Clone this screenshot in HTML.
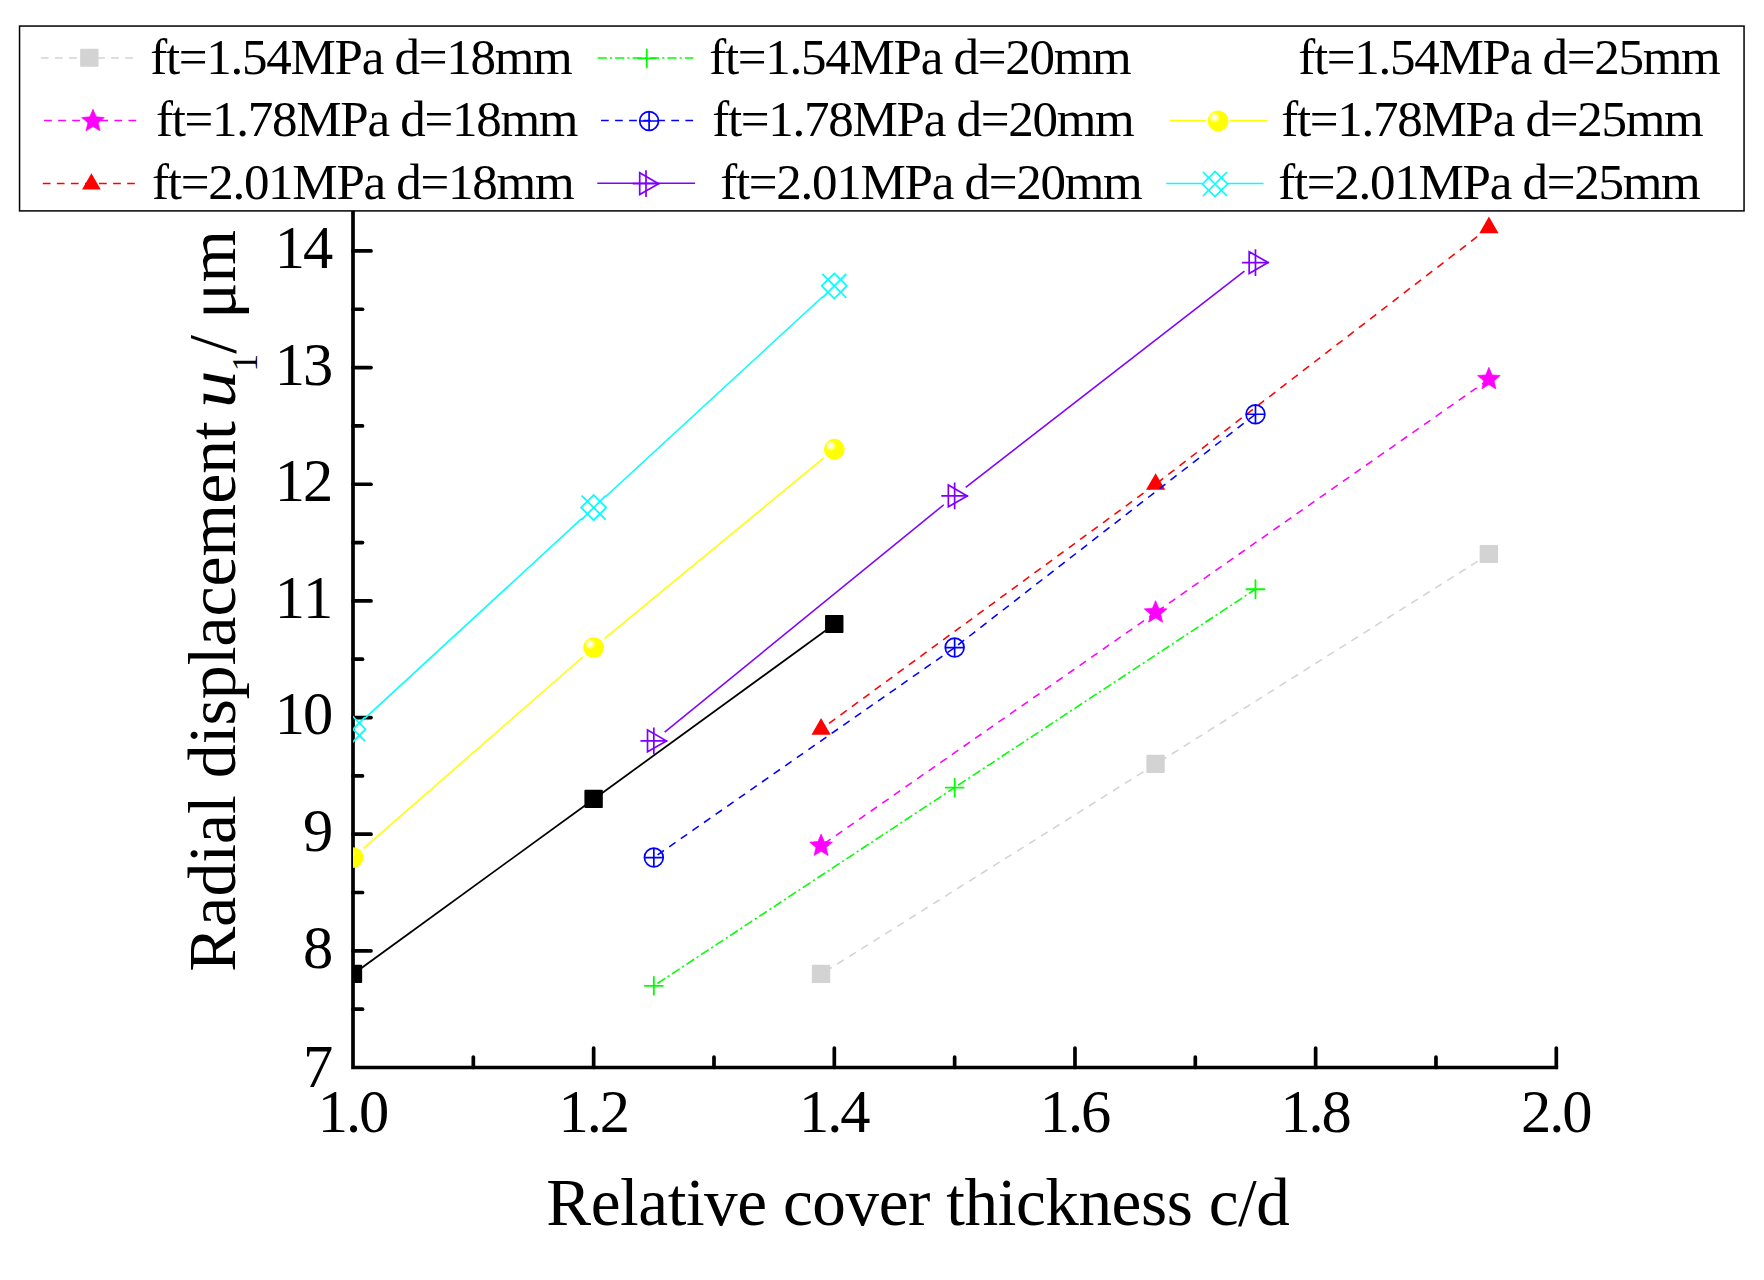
<!DOCTYPE html>
<html><head><meta charset="utf-8"><title>Radial displacement vs relative cover thickness</title>
<style>
html,body{margin:0;padding:0;background:#fff;}
svg{display:block;font-family:'Liberation Serif','Times New Roman',serif;}
text{fill:#000;}
</style></head><body>
<svg width="1764" height="1280" viewBox="0 0 1764 1280">
<defs>
<radialGradient id="ball" cx="0.332" cy="0.335" r="0.26" fx="0.332" fy="0.335">
<stop offset="0" stop-color="#ffffff"/><stop offset="0.22" stop-color="#fffff4"/><stop offset="0.55" stop-color="#ffffa0"/><stop offset="0.85" stop-color="#ffff40"/><stop offset="1" stop-color="#ffff00"/>
</radialGradient>
<clipPath id="plot"><rect x="353.0" y="0" width="1411.0" height="1067.5"/></clipPath>
</defs>
<rect width="1764" height="1280" fill="#fff"/>

<g stroke="#000" stroke-width="3.7" stroke-linecap="round" fill="none">
<path d="M353.0 212 V1067.5 H1556.3" stroke-linecap="square" stroke-linejoin="miter"/>
<path d="M353.0 1009.17 h9.5"/>
<path d="M353.0 950.85 h18"/>
<path d="M353.0 892.52 h9.5"/>
<path d="M353.0 834.20 h18"/>
<path d="M353.0 775.88 h9.5"/>
<path d="M353.0 717.55 h18"/>
<path d="M353.0 659.22 h9.5"/>
<path d="M353.0 600.90 h18"/>
<path d="M353.0 542.57 h9.5"/>
<path d="M353.0 484.25 h18"/>
<path d="M353.0 425.92 h9.5"/>
<path d="M353.0 367.60 h18"/>
<path d="M353.0 309.27 h9.5"/>
<path d="M353.0 250.95 h18"/>
<path d="M473.33 1067.5 v-10.5"/>
<path d="M593.66 1067.5 v-19.5"/>
<path d="M713.99 1067.5 v-10.5"/>
<path d="M834.32 1067.5 v-19.5"/>
<path d="M954.65 1067.5 v-10.5"/>
<path d="M1074.98 1067.5 v-19.5"/>
<path d="M1195.31 1067.5 v-10.5"/>
<path d="M1315.64 1067.5 v-19.5"/>
<path d="M1435.97 1067.5 v-10.5"/>
<path d="M1556.30 1067.5 v-19.5"/>
</g>
<g font-size="60.5" text-anchor="end">
<text x="333.3" y="1086.5">7</text>
<text x="333.3" y="967.8">8</text>
<text x="333.3" y="851.1">9</text>
<text x="333.3" y="734.4" textLength="58.6" lengthAdjust="spacing">10</text>
<text x="333.3" y="617.8" textLength="58.6" lengthAdjust="spacing">11</text>
<text x="333.3" y="501.1" textLength="58.6" lengthAdjust="spacing">12</text>
<text x="333.3" y="384.5" textLength="58.6" lengthAdjust="spacing">13</text>
<text x="333.3" y="267.8" textLength="58.6" lengthAdjust="spacing">14</text>
</g>
<g font-size="60.5" text-anchor="middle">
<text x="353.5" y="1132.2" textLength="71.4" lengthAdjust="spacing">1.0</text>
<text x="594.2" y="1132.2" textLength="71.4" lengthAdjust="spacing">1.2</text>
<text x="834.8" y="1132.2" textLength="71.4" lengthAdjust="spacing">1.4</text>
<text x="1075.5" y="1132.2" textLength="71.4" lengthAdjust="spacing">1.6</text>
<text x="1316.1" y="1132.2" textLength="71.4" lengthAdjust="spacing">1.8</text>
<text x="1556.8" y="1132.2" textLength="71.4" lengthAdjust="spacing">2.0</text>
</g>
<text x="546.3" y="1224.8" font-size="67.2" textLength="743.6" lengthAdjust="spacing">Relative cover thickness c/d</text>
<text transform="translate(234.8,971.8) rotate(-90)" font-size="67.7">Radial displacement</text>
<text transform="translate(234.8,408.0) rotate(-90)" font-size="67.7" font-style="italic" textLength="37.5" lengthAdjust="spacingAndGlyphs">u</text>
<text transform="translate(256.7,371.5) rotate(-90)" font-size="35.4">1</text>
<text transform="translate(234.8,353.8) rotate(-90)" font-size="67.7">/</text>
<text transform="translate(234.8,318.7) rotate(-90)" font-size="67.7">μm</text>
<g clip-path="url(#plot)">
<path d="M821.08 974.18L1155.60 764.21" stroke="#d3d3d3" stroke-width="1.55" fill="none" stroke-dasharray="7.7 6.45" stroke-dashoffset="-5.00"/>
<path d="M1155.60 764.21L1488.92 554.24" stroke="#d3d3d3" stroke-width="1.55" fill="none" stroke-dasharray="7.7 6.45" stroke-dashoffset="-5.00"/>
<rect x="811.83" y="964.83" width="18.40" height="18.10" rx="0.8" fill="#d3d3d3"/>
<rect x="1146.35" y="754.86" width="18.40" height="18.10" rx="0.8" fill="#d3d3d3"/>
<rect x="1479.67" y="544.89" width="18.40" height="18.10" rx="0.8" fill="#d3d3d3"/>
<path d="M821.08 845.87L1155.60 612.56" stroke="#ff00ff" stroke-width="1.55" fill="none" stroke-dasharray="7.7 6.45" stroke-dashoffset="-3.90"/>
<path d="M1155.60 612.56L1488.92 379.26" stroke="#ff00ff" stroke-width="1.55" fill="none" stroke-dasharray="7.7 6.45" stroke-dashoffset="-2.20"/>
<polygon points="821.08,833.97 824.23,841.53 832.40,842.19 826.18,847.52 828.08,855.49 821.08,851.22 814.09,855.49 815.99,847.52 809.77,842.19 817.94,841.53" fill="#ff00ff" stroke="#ff00ff" stroke-width="0.7" stroke-linejoin="round"/>
<polygon points="1155.60,600.66 1158.75,608.23 1166.92,608.89 1160.69,614.22 1162.60,622.19 1155.60,617.92 1148.61,622.19 1150.51,614.22 1144.28,608.89 1152.45,608.23" fill="#ff00ff" stroke="#ff00ff" stroke-width="0.7" stroke-linejoin="round"/>
<polygon points="1488.92,367.36 1492.06,374.93 1500.23,375.59 1494.01,380.92 1495.91,388.89 1488.92,384.62 1481.92,388.89 1483.82,380.92 1477.60,375.59 1485.77,374.93" fill="#ff00ff" stroke="#ff00ff" stroke-width="0.7" stroke-linejoin="round"/>
<path d="M821.08 729.21L1155.60 484.25" stroke="#ff0000" stroke-width="1.55" fill="none" stroke-dasharray="7.7 6.45" stroke-dashoffset="4.30"/>
<path d="M1155.60 484.25L1488.92 227.62" stroke="#ff0000" stroke-width="1.55" fill="none" stroke-dasharray="7.7 6.45" stroke-dashoffset="-1.90"/>
<polygon points="821.08,718.11 811.47,734.76 830.70,734.76" fill="#ff0000"/>
<polygon points="1155.60,473.15 1145.99,489.80 1165.21,489.80" fill="#ff0000"/>
<polygon points="1488.92,216.52 1479.30,233.17 1498.53,233.17" fill="#ff0000"/>
<path d="M653.83 985.85L954.65 787.54" stroke="#00ff00" stroke-width="1.55" fill="none" stroke-dasharray="9.15 3.06 2.15 3.06" stroke-dashoffset="-4.30"/>
<path d="M954.65 787.54L1255.47 589.24" stroke="#00ff00" stroke-width="1.55" fill="none" stroke-dasharray="9.15 3.06 2.15 3.06" stroke-dashoffset="-4.15"/>
<path d="M644.83 985.85h18.0M653.83 976.85v18.0" stroke="#00ff00" stroke-width="1.8" stroke-linecap="round" fill="none"/>
<path d="M945.65 787.54h18.0M954.65 778.54v18.0" stroke="#00ff00" stroke-width="1.8" stroke-linecap="round" fill="none"/>
<path d="M1246.47 589.24h18.0M1255.47 580.24v18.0" stroke="#00ff00" stroke-width="1.8" stroke-linecap="round" fill="none"/>
<path d="M653.83 857.53L954.65 647.56" stroke="#0000ff" stroke-width="1.55" fill="none" stroke-dasharray="7.7 6.45" stroke-dashoffset="-4.60"/>
<path d="M954.65 647.56L1255.47 414.26" stroke="#0000ff" stroke-width="1.55" fill="none" stroke-dasharray="7.7 6.45" stroke-dashoffset="-4.30"/>
<g stroke="#0000ff" stroke-width="1.7" fill="none"><circle cx="653.83" cy="857.53" r="9.4"/><path d="M644.43 857.53h18.8M653.83 848.13v18.8"/></g>
<g stroke="#0000ff" stroke-width="1.7" fill="none"><circle cx="954.65" cy="647.56" r="9.4"/><path d="M945.25 647.56h18.8M954.65 638.16v18.8"/></g>
<g stroke="#0000ff" stroke-width="1.7" fill="none"><circle cx="1255.47" cy="414.26" r="9.4"/><path d="M1246.07 414.26h18.8M1255.47 404.86v18.8"/></g>
<path d="M664.68 732.04L943.79 504.76" stroke="#8000ff" stroke-width="1.55" fill="none"/>
<path d="M965.71 487.34L1244.41 271.19" stroke="#8000ff" stroke-width="1.55" fill="none"/>
<g stroke="#8000ff" stroke-width="1.7" fill="none" stroke-linejoin="miter"><polygon points="666.43,740.88 647.53,729.97 647.53,751.79"/><path d="M640.43 740.88h26.8M653.83 727.48v26.8"/></g>
<g stroke="#8000ff" stroke-width="1.7" fill="none" stroke-linejoin="miter"><polygon points="967.25,495.91 948.35,485.00 948.35,506.83"/><path d="M941.25 495.91h26.8M954.65 482.51v26.8"/></g>
<g stroke="#8000ff" stroke-width="1.7" fill="none" stroke-linejoin="miter"><polygon points="1268.07,262.61 1249.17,251.70 1249.17,273.53"/><path d="M1242.07 262.61h26.8M1255.47 249.21v26.8"/></g>
<path d="M353.00 974.18L593.66 799.20" stroke="#000000" stroke-width="1.75" fill="none"/>
<path d="M593.66 799.20L834.32 624.23" stroke="#000000" stroke-width="1.75" fill="none"/>
<rect x="343.75" y="964.83" width="18.40" height="18.10" rx="0.8" fill="#000000"/>
<rect x="584.41" y="789.85" width="18.40" height="18.10" rx="0.8" fill="#000000"/>
<rect x="825.07" y="614.88" width="18.40" height="18.10" rx="0.8" fill="#000000"/>
<path d="M363.55 848.33L583.11 656.76" stroke="#ffff00" stroke-width="1.55" fill="none"/>
<path d="M604.46 638.66L823.52 458.16" stroke="#ffff00" stroke-width="1.55" fill="none"/>
<circle cx="353.00" cy="857.53" r="10.4" fill="url(#ball)"/>
<circle cx="593.66" cy="647.56" r="10.4" fill="url(#ball)"/>
<circle cx="834.32" cy="449.25" r="10.4" fill="url(#ball)"/>
<path d="M364.77 718.38L581.89 518.42" stroke="#00ffff" stroke-width="1.55" fill="none"/>
<path d="M605.43 496.74L822.55 296.78" stroke="#00ffff" stroke-width="1.55" fill="none"/>
<g stroke="#00ffff" stroke-width="1.7" fill="none"><polygon points="340.40,729.21 353.00,716.61 365.60,729.21 353.00,741.81"/><path d="M341.00 717.21L365.00 741.21M365.00 717.21L341.00 741.21"/></g>
<g stroke="#00ffff" stroke-width="1.7" fill="none"><polygon points="581.06,507.58 593.66,494.98 606.26,507.58 593.66,520.18"/><path d="M581.66 495.58L605.66 519.58M605.66 495.58L581.66 519.58"/></g>
<g stroke="#00ffff" stroke-width="1.7" fill="none"><polygon points="821.72,285.95 834.32,273.35 846.92,285.95 834.32,298.55"/><path d="M822.32 273.95L846.32 297.95M846.32 273.95L822.32 297.95"/></g>
</g>
<rect x="19.55" y="26.05" width="1724.5" height="184.85" fill="#fff" stroke="#000" stroke-width="1.5"/>
<path d="M40.9 58.0H133.2" stroke="#d3d3d3" stroke-width="1.55" fill="none" stroke-dasharray="7.7 6.36"/>
<rect x="80.15" y="48.65" width="18.40" height="18.10" rx="0.8" fill="#d3d3d3"/>
<path d="M44.1 120.5H136.4" stroke="#ff00ff" stroke-width="1.55" fill="none" stroke-dasharray="7.7 6.36"/>
<polygon points="93.00,109.30 96.15,116.87 104.32,117.52 98.09,122.85 99.99,130.83 93.00,126.56 86.01,130.83 87.91,122.85 81.68,117.52 89.85,116.87" fill="#ff00ff" stroke="#ff00ff" stroke-width="0.7" stroke-linejoin="round"/>
<path d="M42.8 183.4H135.1" stroke="#ff0000" stroke-width="1.55" fill="none" stroke-dasharray="7.7 6.36"/>
<polygon points="91.40,173.30 82.05,189.50 100.75,189.50" fill="#ff0000"/>
<path d="M597.7 57.9H693.4" stroke="#00ff00" stroke-width="1.55" fill="none" stroke-dasharray="9.15 3.06 2.15 3.06"/>
<path d="M637.80 58.30h18.0M646.80 49.30v18.0" stroke="#00ff00" stroke-width="1.8" stroke-linecap="round" fill="none"/>
<path d="M601.0 120.5H693.2" stroke="#0000ff" stroke-width="1.55" fill="none" stroke-dasharray="7.7 6.36"/>
<g stroke="#0000ff" stroke-width="1.7" fill="none"><circle cx="649.10" cy="121.00" r="9.4"/><path d="M639.70 121.00h18.8M649.10 111.60v18.8"/></g>
<path d="M597.3 183.3H695.1" stroke="#8000ff" stroke-width="1.55" fill="none"/>
<g stroke="#8000ff" stroke-width="1.7" fill="none" stroke-linejoin="miter"><polygon points="658.60,183.70 639.70,172.79 639.70,194.61"/><path d="M632.60 183.70h26.8M646.00 170.30v26.8"/></g>
<path d="M1169.7 120.4H1206.1M1230.1 120.4H1267.1" stroke="#ffff00" stroke-width="1.55" fill="none"/>
<circle cx="1218.10" cy="120.90" r="10.4" fill="url(#ball)"/>
<path d="M1166.2 183.4H1202.4M1227.6 183.4H1263.6" stroke="#00ffff" stroke-width="1.55" fill="none"/>
<g stroke="#00ffff" stroke-width="1.7" fill="none"><polygon points="1202.40,184.00 1215.00,171.40 1227.60,184.00 1215.00,196.60"/><path d="M1203.00 172.00L1227.00 196.00M1227.00 172.00L1203.00 196.00"/></g>
<g font-size="51">
<text x="150.2" y="73.8" textLength="422.5" lengthAdjust="spacing">ft=1.54MPa d=18mm</text>
<text x="156.0" y="136.3" textLength="422.5" lengthAdjust="spacing">ft=1.78MPa d=18mm</text>
<text x="152.1" y="199.0" textLength="422.5" lengthAdjust="spacing">ft=2.01MPa d=18mm</text>
<text x="709.2" y="73.8" textLength="422.5" lengthAdjust="spacing">ft=1.54MPa d=20mm</text>
<text x="712.2" y="136.3" textLength="422.5" lengthAdjust="spacing">ft=1.78MPa d=20mm</text>
<text x="720.2" y="199.0" textLength="422.5" lengthAdjust="spacing">ft=2.01MPa d=20mm</text>
<text x="1298.2" y="73.8" textLength="422.5" lengthAdjust="spacing">ft=1.54MPa d=25mm</text>
<text x="1281.2" y="136.3" textLength="422.5" lengthAdjust="spacing">ft=1.78MPa d=25mm</text>
<text x="1278.2" y="199.0" textLength="422.5" lengthAdjust="spacing">ft=2.01MPa d=25mm</text>
</g>
</svg></body></html>
